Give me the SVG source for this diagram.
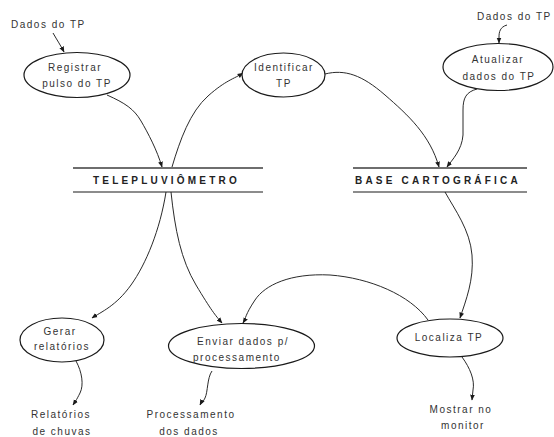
<svg xmlns="http://www.w3.org/2000/svg" width="554" height="437" viewBox="0 0 554 437">
  <style>
    .ell { fill: #ffffff; stroke: #1a1a1a; stroke-width: 1.2; }
    .t { font-family: "Liberation Sans", Arial, sans-serif; font-size: 10px; letter-spacing: 1.5px; fill: #333333; }
    .m { text-anchor: middle; }
    .ent { font-family: "Liberation Sans", Arial, sans-serif; font-size: 10px; font-weight: bold; letter-spacing: 3.2px; fill: #222222; }
    .topl { stroke: #6e6e6e; stroke-width: 1.8; }
    .botl { stroke: #1a1a1a; stroke-width: 1.2; }
    .c { fill: none; stroke: #2a2a2a; stroke-width: 1; marker-end: url(#ah); }
  </style>
  <defs>
    <marker id="ah" viewBox="0 0 10 10" refX="9" refY="5" markerWidth="6" markerHeight="6" orient="auto" markerUnits="userSpaceOnUse">
      <path d="M0,1 L10,5 L0,9 z" fill="#1a1a1a"/>
    </marker>
  </defs>
  <rect width="554" height="437" fill="#ffffff"/>

  <!-- connectors -->
  <g id="connectors">
    <path class="c" d="M53,33 C57,40 61,46 64,52"/>
    <path class="c" d="M107,95 C125,103 134,109 141,121 S157,150 162,167"/>
    <path class="c" d="M172,167 C180,140 190,112 208,96 S234,79 243,73"/>
    <path class="c" d="M325,74 C345,69 362,75 385,95 S430,135 439,167"/>
    <path class="c" d="M507,25 C500,27 499,32 499,37 L499,43"/>
    <path class="c" d="M477,89 C466,92 463,98 463,110 L463,135 C462,150 452,160 447,167"/>
    <path class="c" d="M166,192 C160,230 146,264 131,285 S101,312 92,318"/>
    <path class="c" d="M171,192 C175,230 181,260 196,285 S215,315 222,323"/>
    <path class="c" d="M428,320 C410,295 370,278 330,275 C290,273 265,285 255,300 S246,318 243,323"/>
    <path class="c" d="M445,192 C455,210 470,230 472,255 S466,300 460,318"/>
    <path class="c" d="M76,361 C82,372 84,385 80,393 S75,402 73,405"/>
    <path class="c" d="M212,371 C207,378 208,392 205,398 S201,403 200,405"/>
    <path class="c" d="M462,357 C470,368 475,380 473,390 L472,400"/>
  </g>

  <!-- free labels -->
  <g id="in-dados-tp-1"><text class="t" x="11" y="28">Dados do TP</text></g>
  <g id="in-dados-tp-2"><text class="t" x="477" y="20">Dados do TP</text></g>
  <g id="out-relatorios">
    <text class="t m" x="61" y="418">Relatórios</text>
    <text class="t m" x="62" y="435">de chuvas</text>
  </g>
  <g id="out-processamento">
    <text class="t m" x="191" y="418">Processamento</text>
    <text class="t m" x="189" y="435">dos dados</text>
  </g>
  <g id="out-monitor">
    <text class="t m" x="461" y="413">Mostrar no</text>
    <text class="t m" x="463" y="429">monitor</text>
  </g>

  <!-- processes -->
  <g id="registrar">
    <ellipse class="ell" cx="77" cy="75" rx="53" ry="22.5"/>
    <text class="t m" x="75" y="71">Registrar</text>
    <text class="t m" x="77" y="87">pulso do TP</text>
  </g>
  <g id="identificar">
    <ellipse class="ell" cx="283.5" cy="75" rx="41.5" ry="22"/>
    <text class="t m" x="284" y="71">Identificar</text>
    <text class="t m" x="284" y="87">TP</text>
  </g>
  <g id="atualizar">
    <ellipse class="ell" cx="498" cy="67" rx="55" ry="23.5"/>
    <text class="t m" x="498" y="63">Atualizar</text>
    <text class="t m" x="499" y="80">dados do TP</text>
  </g>
  <g id="gerar">
    <ellipse class="ell" cx="62" cy="340" rx="42" ry="22"/>
    <text class="t m" x="60" y="335">Gerar</text>
    <text class="t m" x="62" y="350">relatórios</text>
  </g>
  <g id="enviar">
    <ellipse class="ell" cx="241.5" cy="346" rx="73" ry="22.5"/>
    <text class="t m" x="243" y="345">Enviar dados p/</text>
    <text class="t m" x="237" y="361">processamento</text>
  </g>
  <g id="localiza">
    <ellipse class="ell" cx="450" cy="338" rx="53" ry="19"/>
    <text class="t m" x="449" y="341">Localiza TP</text>
  </g>

  <!-- data stores -->
  <g id="telepluviometro">
    <line class="topl" x1="73" y1="168" x2="263" y2="168"/>
    <line class="botl" x1="73" y1="192" x2="263" y2="192"/>
    <text class="ent" x="93" y="184">TELEPLUVIÔMETRO</text>
  </g>
  <g id="base-cartografica">
    <line class="topl" x1="353" y1="168" x2="527" y2="168"/>
    <line class="botl" x1="353" y1="192" x2="527" y2="192"/>
    <text class="ent" x="355" y="184">BASE CARTOGRÁFICA</text>
  </g>
</svg>
